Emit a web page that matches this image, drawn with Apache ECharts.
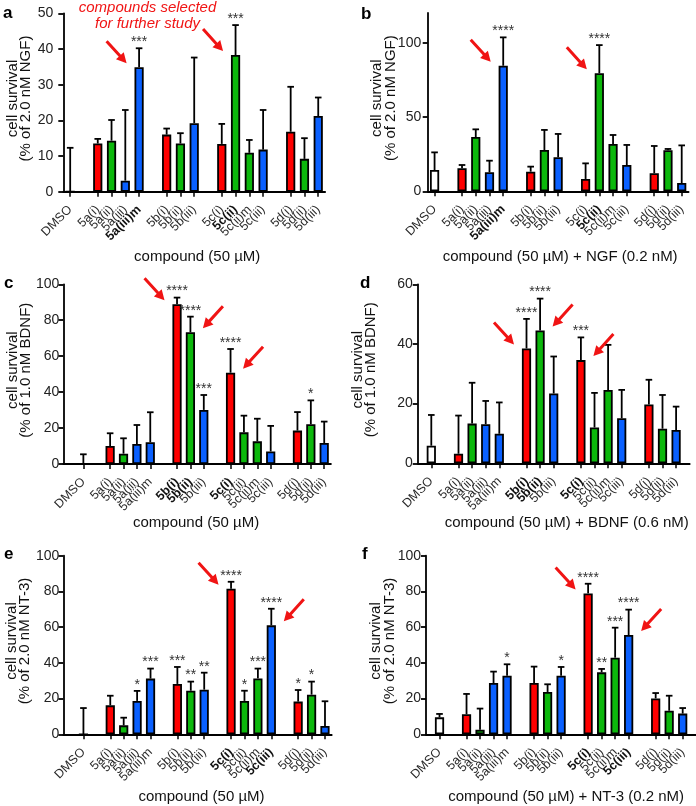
<!DOCTYPE html>
<html><head><meta charset="utf-8">
<script src="https://cdn.jsdelivr.net/npm/echarts@6/dist/echarts.min.js"></script>
<style>html,body{margin:0;padding:0;background:#fff}#c{width:696px;height:806px}</style>
</head><body><div id="c"></div>
<script>
// ---------- DATA ----------
const groups = [
  ['DMSO'],
  ['5a(i)', '5a(ii)', '5a(iii)', '5a(iii)m'],
  ['5b(i)', '5b(ii)', '5b(iii)'],
  ['5c(i)', '5c(ii)', '5c(ii)m', '5c(iii)'],
  ['5d(i)', '5d(ii)', '5d(iii)']
];
const categories = groups.flat();

// panel a
const meanA = [0, 13.5, 14.3, 3.1, 34.9, 16.0, 13.5, 19.2, 13.4, 38.3, 10.9, 11.8, 16.8, 9.2, 21.2];
const errA  = [12.3, 14.8, 20.1, 22.9, 40.2, 17.7, 16.4, 37.6, 19.0, 46.7, 14.5, 22.9, 29.4, 15.0, 26.4];
const starsA = ['', '', '', '', '***', '', '', '', '', '***', '', '', '', '', ''];
// panel b
const meanB = [14.3, 15.5, 36.5, 12.8, 84.5, 13.2, 27.8, 22.9, 8.3, 79.4, 31.8, 17.7, 12.1, 27.6, 5.6];
const errB  = [26.2, 17.7, 41.7, 20.6, 103.6, 16.6, 41.3, 38.6, 18.8, 98.4, 37.9, 31.2, 30.5, 28.5, 30.9];
const starsB = ['', '', '', '', '****', '', '', '', '', '****', '', '', '', '', ''];
// panel c
const meanC = [0, 10.0, 5.75, 11.1, 12.1, 88.9, 73.3, 30.1, 50.8, 17.6, 12.6, 7.0, 18.6, 22.1, 11.7];
const errC  = [5.4, 17.1, 14.3, 21.7, 28.8, 92.6, 82.0, 38.4, 64.0, 26.9, 25.2, 21.2, 28.9, 35.4, 23.6];
const starsC = ['', '', '', '', '', '****', '****', '***', '****', '', '', '', '', '*', ''];
// panel d
const meanD = [5.9, 3.2, 13.3, 13.1, 9.9, 38.5, 44.5, 23.4, 34.6, 12.0, 24.6, 15.1, 19.7, 11.6, 11.2];
const errD  = [16.2, 16.0, 27.0, 20.9, 20.4, 48.4, 55.2, 35.8, 42.2, 23.6, 39.7, 24.6, 28.0, 22.9, 19.0];
const starsD = ['', '', '', '', '', '****', '****', '', '***', '', '', '', '', '', ''];
// panel e
const meanE = [0, 16.2, 5.0, 18.7, 31.2, 28.2, 24.4, 25.0, 81.5, 18.7, 31.3, 61.0, 18.3, 22.2, 4.7];
const errE  = [14.7, 21.6, 9.3, 24.3, 36.8, 37.7, 29.5, 34.5, 85.4, 24.4, 36.8, 70.3, 24.8, 29.5, 18.5];
const starsE = ['', '', '', '*', '***', '***', '**', '**', '****', '*', '***', '****', '*', '*', ''];
// panel f
const meanF = [9.5, 11.2, 2.6, 28.7, 32.8, 28.7, 23.7, 32.8, 78.9, 34.7, 42.9, 55.6, 20.1, 13.2, 11.6];
const errF  = [11.4, 22.6, 14.4, 35.1, 39.2, 37.9, 28.0, 37.7, 84.3, 36.6, 59.7, 69.8, 23.1, 21.6, 14.7];
const starsF = ['', '', '', '', '*', '', '', '*', '****', '**', '***', '****', '', '', ''];

const ticksA = [0, 10, 20, 30, 40, 50];
const ticksB = [0, 50, 100];
const ticksC = [0, 20, 40, 60, 80, 100];
const ticksD = [0, 20, 40, 60];
const ticksE = [0, 20, 40, 60, 80, 100];
const ticksF = [0, 20, 40, 60, 80, 100];

const boldA = ['5a(iii)m', '5c(ii)'];
const boldC = ['5b(i)', '5b(ii)', '5c(i)'];
const boldE = ['5c(i)', '5c(iii)'];

const arrowsA = [['5a(iii)m', 'L'], ['5c(ii)', 'L']];
const arrowsC = [['5b(i)', 'L'], ['5b(ii)', 'R'], ['5c(i)', 'R']];
const arrowsE = [['5c(i)', 'L'], ['5c(iii)', 'R']];

const yNameA = 'cell survival\n(% of 2.0 nM NGF)';
const yNameC = 'cell survival\n(% of 1.0 nM BDNF)';
const yNameE = 'cell survival\n(% of 2.0 nM NT-3)';
const xNameA = 'compound (50 µM)';
const xNameB = 'compound (50 µM) + NGF (0.2 nM)';
const xNameD = 'compound (50 µM) + BDNF (0.6 nM)';
const xNameF = 'compound (50 µM) + NT-3 (0.2 nM)';

// ---------- PANELS (layout separate from data) ----------
const FONT = '"Liberation Sans", Arial, sans-serif';
const panels = [
  {letter:'a', mean:meanA, err:errA, stars:starsA, ticks:ticksA, bold:boldA, arrows:arrowsA, yName:yNameA, xName:xNameA,
   L:{left:63.3, top:13.3, height:178.4, slot:13.78, bg:true, lead:false, trail:false, xGap:57.8, yGap:30.3, yLab:10, shift:3, lx:3, ly:22}},
  {letter:'b', mean:meanB, err:errB, stars:starsB, ticks:ticksB, bold:boldA, arrows:arrowsA, yName:yNameA, xName:xNameB, max:120,
   L:{left:427.7, top:13.0, height:178.3, slot:13.73, bg:true, lead:false, trail:false, xGap:57.9, yGap:30.5, yLab:6.5, shift:2, lx:361, ly:23}},
  {letter:'c', mean:meanC, err:errC, stars:starsC, ticks:ticksC, bold:boldC, arrows:arrowsC, yName:yNameC, xName:xNameA,
   L:{left:63.3, top:284.3, height:179.7, slot:13.38, bg:true, lead:true, trail:false, xGap:51.8, yGap:30.3, yLab:4, shift:-1, lx:4, ly:291.5}},
  {letter:'d', mean:meanD, err:errD, stars:starsD, ticks:ticksD, bold:boldC, arrows:arrowsC, yName:yNameC, xName:xNameD,
   L:{left:417.7, top:284.3, height:179.0, slot:13.6, bg:false, lead:true, trail:true, xGap:52.5, yGap:39.7, yLab:5, shift:13, lx:360, ly:292}},
  {letter:'e', mean:meanE, err:errE, stars:starsE, ticks:ticksE, bold:boldE, arrows:arrowsE, yName:yNameE, xName:xNameA,
   L:{left:63.3, top:555.7, height:178.6, slot:13.42, bg:true, lead:true, trail:false, xGap:54.9, yGap:31.3, yLab:4, shift:4, lx:4, ly:563}},
  {letter:'f', mean:meanF, err:errF, stars:starsF, ticks:ticksF, bold:boldE, arrows:arrowsE, yName:yNameE, xName:xNameF,
   L:{left:426, top:555.7, height:178.6, slot:13.51, bg:false, lead:true, trail:true, xGap:54.9, yGap:29.5, yLab:5, shift:5, lx:362, ly:563}}
];

function colorOf(name) {
  if (name === 'DMSO') return '#ffffff';
  if (/\(iii\)/.test(name)) return '#0a60ff';
  if (/\(ii\)/.test(name)) return '#0cb80c';
  return '#ff0000';
}

const grids = [], xAxes = [], yAxes = [], series = [];
panels.forEach((p, i) => {
  const L = p.L;
  const axisNames = [];
  const posOf = {};
  if (L.lead) axisNames.push('_lead');
  groups.forEach((g, gi) => {
    if (gi > 0) axisNames.push('_gap' + gi);
    g.forEach(n => { posOf[n] = axisNames.length; axisNames.push(n); });
  });
  if (L.trail) axisNames.push('_trail');
  p.posOf = posOf;
  const nInt = L.bg ? axisNames.length : axisNames.length - 1;
  grids.push({left: L.left, top: L.top, width: nInt * L.slot, height: L.height, containLabel: false, outerBoundsMode: 'none'});
  const pad = L.shift >= 0 ? [0, 0, 0, 2 * L.shift] : [0, -2 * L.shift, 0, 0];
  xAxes.push({
    type: 'category', gridIndex: i, data: axisNames, boundaryGap: L.bg,
    name: p.xName, nameLocation: 'middle', nameGap: L.xGap, nameMoveOverlap: false,
    nameTextStyle: {fontSize: 15, color: '#111', fontFamily: FONT, padding: pad},
    axisLine: {lineStyle: {color: '#000', width: 1.8}},
    axisTick: {show: true, alignWithLabel: true, length: 5, lineStyle: {color: '#000', width: 1.5},
               interval: (idx, v) => !String(v).startsWith('_')},
    axisLabel: {interval: 0, rotate: 45, margin: 16, fontSize: 12.5, color: '#2a2a2a', fontFamily: FONT,
                formatter: v => v.startsWith('_') ? '' : (p.bold.includes(v) ? '{b|' + v + '}' : v),
                rich: {b: {fontWeight: 'bold', fontSize: 12.5, color: '#111', fontFamily: FONT}}},
    splitLine: {show: false}
  });
  const yMax = p.max || p.ticks[p.ticks.length - 1];
  yAxes.push({
    type: 'value', gridIndex: i, min: 0, max: yMax, interval: p.ticks[1] - p.ticks[0],
    name: p.yName, nameLocation: 'middle', nameGap: L.yGap, nameMoveOverlap: false,
    nameTextStyle: {fontSize: 15, lineHeight: 13.5, color: '#111', fontFamily: FONT, padding: [0, 0, 0, 8]},
    axisLine: {show: true, lineStyle: {color: '#000', width: 1.8}},
    axisTick: {show: true, length: 5, lineStyle: {color: '#000', width: 1.8}, customValues: p.ticks},
    axisLabel: {fontSize: 14, color: '#222', margin: L.yLab, fontFamily: FONT, customValues: p.ticks,
                formatter: v => p.ticks.includes(v) ? String(v) : ''},
    splitLine: {show: false}
  });
  series.push({
    type: 'bar', xAxisIndex: i, yAxisIndex: i, barWidth: 9.2, animation: false,
    itemStyle: {borderColor: '#000', borderWidth: 1.8},
    data: axisNames.map(n => posOf[n] === undefined ? '-' :
      {value: p.mean[categories.indexOf(n)], itemStyle: {color: colorOf(n)}})
  });
  const stars = p.stars;
  series.push({
    type: 'custom', xAxisIndex: i, yAxisIndex: i, clip: false, animation: false, z: 5,
    data: categories.map((n, k) => [posOf[n], p.mean[k], p.err[k]]),
    renderItem: (params, api) => {
      const x = api.value(0), m = api.value(1), e = api.value(2);
      const p0 = api.coord([x, m]), p1 = api.coord([x, e]);
      const ch = [
        {type: 'line', shape: {x1: p0[0], y1: p0[1], x2: p1[0], y2: p1[1]}, style: {stroke: '#000', lineWidth: 1.8}},
        {type: 'line', shape: {x1: p1[0] - 3.3, y1: p1[1], x2: p1[0] + 3.3, y2: p1[1]}, style: {stroke: '#000', lineWidth: 1.8}}
      ];
      const s = stars[params.dataIndex];
      if (s) ch.push({type: 'text', x: p1[0], y: p1[1] + 1,
        style: {text: s, fill: '#333', align: 'center', verticalAlign: 'bottom', fontSize: 14, fontFamily: FONT}});
      return {type: 'group', children: ch};
    }
  });
});

const chart = echarts.init(document.getElementById('c'), null, {renderer: 'canvas'});
chart.setOption({animation: false, grid: grids, xAxis: xAxes, yAxis: yAxes, series: series});

// ---------- annotations anchored to bars ----------
const graphics = [];
function arrowPoly(tip, tail) {
  const dx = tip[0] - tail[0], dy = tip[1] - tail[1];
  const len = Math.hypot(dx, dy), ux = dx / len, uy = dy / len, nx = -uy, ny = ux;
  const hl = 10, hw = 10.5, sw = 3;
  const bx = tip[0] - ux * hl, by = tip[1] - uy * hl;
  return [
    [tail[0] + nx * sw / 2, tail[1] + ny * sw / 2],
    [bx + nx * sw / 2, by + ny * sw / 2],
    [bx + nx * hw / 2, by + ny * hw / 2],
    tip,
    [bx - nx * hw / 2, by - ny * hw / 2],
    [bx - nx * sw / 2, by - ny * sw / 2],
    [tail[0] - nx * sw / 2, tail[1] - ny * sw / 2]
  ];
}
panels.forEach((p, i) => {
  p.arrows.forEach(([name, side]) => {
    const k = categories.indexOf(name);
    const pt = chart.convertToPixel({gridIndex: i}, [p.posOf[name], p.mean[k]]);
    const sgn = side === 'L' ? -1 : 1;
    const tip = [pt[0] + sgn * 12.5, pt[1] - 4];
    const tail = [tip[0] + sgn * 20, tip[1] - 22];
    graphics.push({type: 'polygon', shape: {points: arrowPoly(tip, tail)}, style: {fill: '#f01414'}, z: 10});
  });
  graphics.push({type: 'text', z: 10, style: {text: p.letter, x: p.L.lx, y: p.L.ly, fill: '#000',
    font: 'bold 17px ' + FONT, textAlign: 'left', textVerticalAlign: 'bottom'}});
});
graphics.push({type: 'text', z: 10, style: {text: 'compounds selected', x: 147.5, y: 7.5, fill: '#f01414',
  font: 'italic 15px ' + FONT, textAlign: 'center', textVerticalAlign: 'middle'}});
graphics.push({type: 'text', z: 10, style: {text: 'for further study', x: 147.5, y: 23.5, fill: '#f01414',
  font: 'italic 15px ' + FONT, textAlign: 'center', textVerticalAlign: 'middle'}});
chart.setOption({graphic: graphics});
</script>
</body></html>
